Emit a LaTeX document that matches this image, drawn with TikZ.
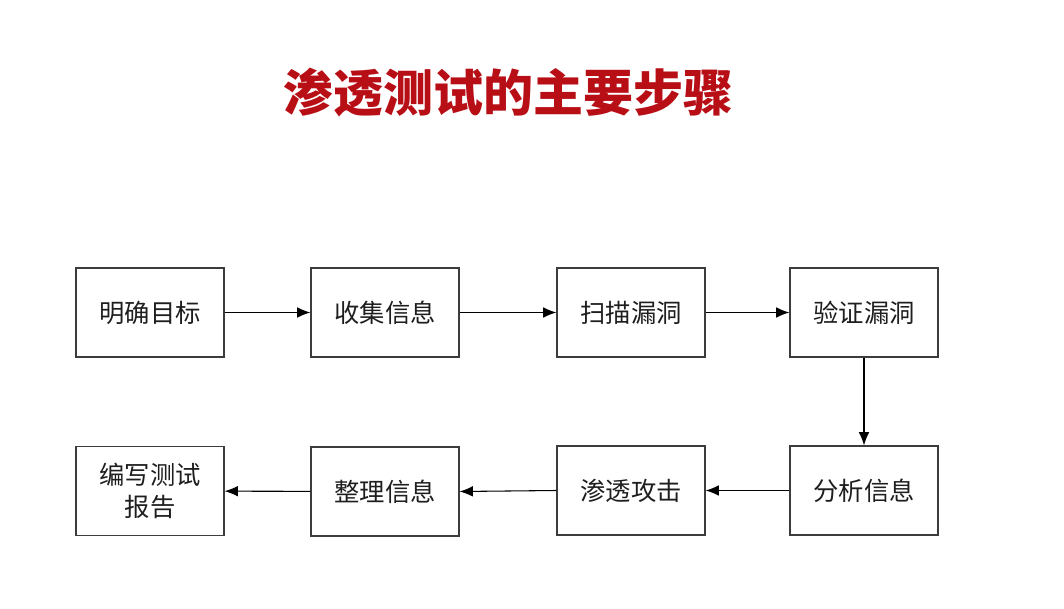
\documentclass[tikz,border=0pt]{standalone}
\usepackage{fontspec}
\setmainfont{Noto Sans CJK SC}
\usetikzlibrary{arrows.meta}
\definecolor{titlered}{RGB}{184,14,22}
\definecolor{boxline}{RGB}{60,60,60}
\definecolor{txt}{RGB}{30,30,30}
\tikzset{
  stepbox/.style={draw=boxline, line width=0.9pt, minimum width=111pt, minimum height=66.75pt, inner sep=0pt, align=center, text=txt, font=\fontsize{19pt}{24pt}\selectfont},
  conn/.style={-{Latex[length=10pt,width=8pt]}, line width=0.8pt, black}
}
\begin{document}
\begin{tikzpicture}[x=0.75pt,y=-0.75pt]
\useasboundingbox (0,0) rectangle (1064,609);
\node[font=\fontsize{37.5pt}{42pt}\selectfont\bfseries, text=titlered] (title) at (508,93) {渗透测试的主要步骤};
\node[stepbox] (a) at (150,312.5) {明确目标};
\node[stepbox] (b) at (385,312.5) {收集信息};
\node[stepbox] (c) at (631,312.5) {扫描漏洞};
\node[stepbox] (d) at (864,312.5) {验证漏洞};
\node[stepbox] (e) at (864,490.5) {分析信息};
\node[stepbox] (f) at (631,490.5) {渗透攻击};
\node[stepbox] (g) at (385,491.5) {整理信息};
\node[stepbox] (h) at (150,491) {编写测试\\报告};
\draw[conn] (a) -- (b);
\draw[conn] (b) -- (c);
\draw[conn] (c) -- (d);
\draw[conn] (d) -- (e);
\draw[conn] (e) -- (f);
\draw[conn] (f.west) -- (g.east);
\draw[conn] (g) -- (h);
\end{tikzpicture}
\end{document}
